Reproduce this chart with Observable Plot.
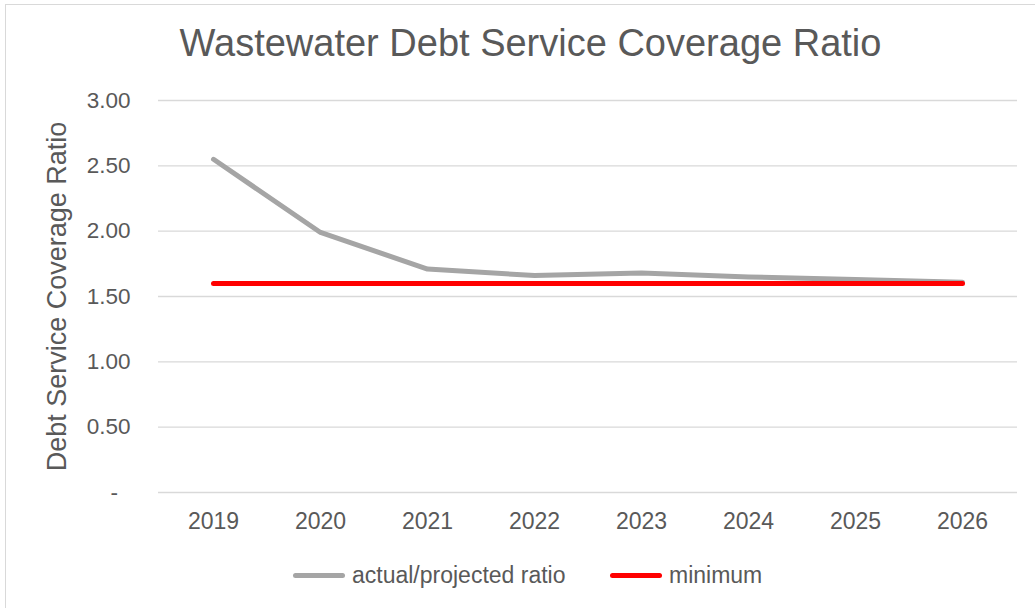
<!DOCTYPE html>
<html><head><meta charset="utf-8">
<script src="https://cdn.jsdelivr.net/npm/d3@7"></script>
<script src="https://cdn.jsdelivr.net/npm/@observablehq/plot@0.6"></script>
<style>
body{margin:0;background:#fff;font-family:"Liberation Sans",Arial,sans-serif;}
#wrap{position:relative;width:1035px;height:608px;overflow:hidden;}
#frame{position:absolute;left:5px;top:4px;width:1040px;height:620px;border:1px solid #d9d9d9;box-sizing:border-box;}
#title{position:absolute;left:13px;width:1035px;top:22px;text-align:center;font-size:38px;color:#595959;white-space:nowrap;}
#legend{position:absolute;top:562px;left:0;width:1035px;font-size:23px;color:#595959;}
.li{position:absolute;display:flex;align-items:center;white-space:nowrap;}
.sw{display:inline-block;width:52px;height:5px;border-radius:3px;margin-right:7px;}
#chart{position:absolute;left:0;top:0;}
</style></head>
<body>
<div id="wrap">
<div id="frame"></div>
<div id="chart"></div>
<div id="title">Wastewater Debt Service Coverage Ratio</div>
<div id="legend"></div>
</div>
<script>
const years = ["2019","2020","2021","2022","2023","2024","2025","2026"];
const actualRatio = [2.55, 1.99, 1.71, 1.66, 1.68, 1.65, 1.63, 1.61];
const minimumRatio = [1.60, 1.60, 1.60, 1.60, 1.60, 1.60, 1.60, 1.60];
const yTicks = [0, 0.5, 1, 1.5, 2, 2.5, 3];
const seriesNames = ["actual/projected ratio", "minimum"];
const seriesColors = ["#a5a5a5", "#ff0000"];
const yLabel = "Debt Service Coverage Ratio";

const actualData = years.map((y,i)=>({year:y, value:actualRatio[i]}));
const minData = years.map((y,i)=>({year:y, value:minimumRatio[i]}));

const chart = Plot.plot({
  width: 1035,
  height: 608,
  marginTop: 100,
  marginBottom: 116,
  marginLeft: 158,
  marginRight: 18,
  style: {fontFamily: '"Liberation Sans", Arial, sans-serif', fontSize: "23px", color: "#595959", background: "transparent"},
  x: {type: "point", domain: years, padding: 0.5, label: null},
  y: {domain: [0, 3], label: null},
  marks: [
    Plot.gridY(yTicks, {stroke: "#d9d9d9", strokeOpacity: 1, strokeWidth: 1.3}),
    Plot.axisY(yTicks, {tickSize: 0, tickPadding: 28, label: null, fontSize: 22.5, fill: "#595959",
      tickFormat: d => d === 0 ? "-\u2007" : d.toFixed(2)}),
    Plot.axisX({tickSize: 0, tickPadding: 20, label: null, fontSize: 23, fill: "#595959"}),
    Plot.text([yLabel], {frameAnchor: "left", textAnchor: "middle", dx: -101, dy: 0, rotate: -90, fontSize: 27, fill: "#595959"}),
    Plot.line(actualData, {x: "year", y: "value", stroke: seriesColors[0], strokeWidth: 5, strokeLinecap: "round", strokeLinejoin: "round"}),
    Plot.line(minData, {x: "year", y: "value", stroke: seriesColors[1], strokeWidth: 5, strokeLinecap: "round", strokeLinejoin: "round"})
  ]
});
document.getElementById("chart").appendChild(chart);

const legend = document.getElementById("legend");
const lefts = [293, 610];
seriesNames.forEach((n,i)=>{
  const d = document.createElement("div");
  d.className = "li";
  d.style.left = lefts[i] + "px";
  d.innerHTML = `<span class="sw" style="background:${seriesColors[i]}"></span><span>${n}</span>`;
  legend.appendChild(d);
});
</script>
</body></html>
